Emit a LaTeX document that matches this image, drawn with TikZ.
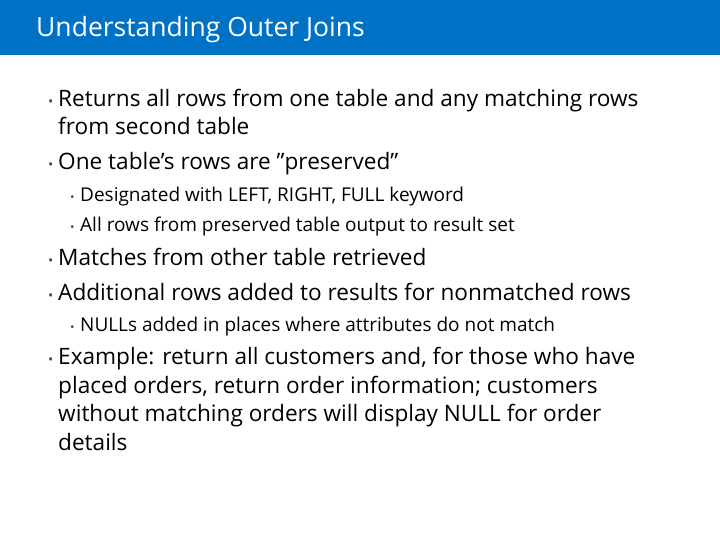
\documentclass[tikz,border=0pt]{standalone}
\usepackage{fontspec}
\setmainfont{Open Sans}
\definecolor{bar}{RGB}{0,114,198}
\begin{document}
\begin{tikzpicture}[x=1pt,y=-1pt,
  t1/.style={anchor=base west,inner sep=0pt,font=\fontsize{22.6}{27}\selectfont},
  t2/.style={anchor=base west,inner sep=0pt,font=\fontsize{19}{23}\selectfont},
  b1/.style={anchor=base west,inner sep=0pt,font=\fontsize{14}{16}\selectfont,text=black!70},
  b2/.style={anchor=base west,inner sep=0pt,font=\fontsize{12}{14}\selectfont,text=black!70}]
\useasboundingbox (0,0) rectangle (720,540);
\fill[bar] (0,0) rectangle (720,55);
\node[anchor=base west,inner sep=0pt,text=white,font=\fontsize{26.5}{30}\selectfont] (title) at (36,37) {Understanding Outer Joins};
\node[b1] (d1) at (48,107) {•}; \node[t1] (l1) at (58,107) {Returns all rows from one table and any matching rows};
\node[t1] (l1b) at (58,135) {from second table};
\node[b1] (d2) at (48,170) {•}; \node[t1] (l2) at (58,170) {One table’s rows are ”preserved”};
\node[b2] (d3) at (70,202) {•}; \node[t2] (l3) at (80,202) {Designated with LEFT, RIGHT, FULL keyword};
\node[b2] (d4) at (70,232) {•}; \node[t2] (l4) at (80,232) {All rows from preserved table output to result set};
\node[b1] (d5) at (48,265) {•}; \node[t1] (l5) at (58,265) {Matches from other table retrieved};
\node[b1] (d6) at (48,300) {•}; \node[t1] (l6) at (58,300) {Additional rows added to results for nonmatched rows};
\node[b2] (d7) at (70,331) {•}; \node[t2] (l7) at (80,331) {NULLs added in places where attributes do not match};
\node[b1] (d8) at (48,364) {•}; \node[t1] (l8) at (58,364) {Example: return all customers and, for those who have};
\node[t1] (l8b) at (58,393) {placed orders, return order information; customers};
\node[t1] (l8c) at (58,421) {without matching orders will display NULL for order};
\node[t1] (l8d) at (58,450) {details};
\end{tikzpicture}
\end{document}
